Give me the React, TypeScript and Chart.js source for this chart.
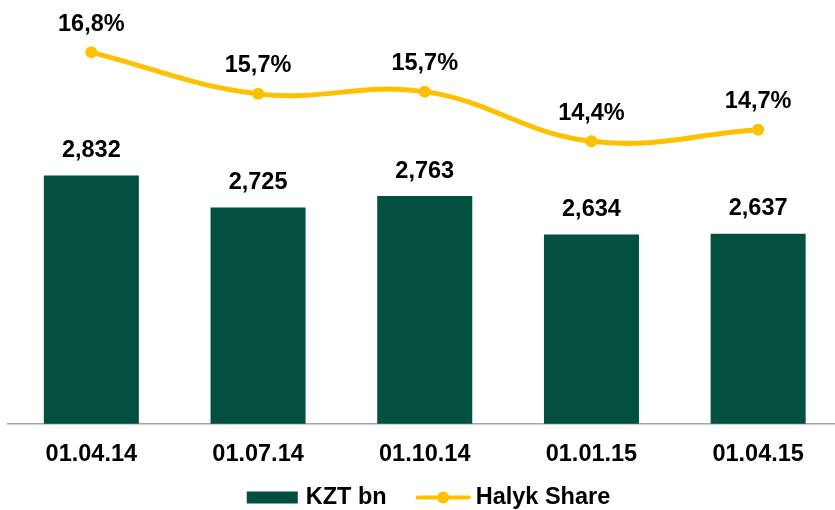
import React, { useEffect, useRef } from "react";
import { Chart, registerables } from "chart.js";

Chart.register(...registerables);

const categories = ["01.04.14", "01.07.14", "01.10.14", "01.01.15", "01.04.15"];
const kztBn = [2832, 2725, 2763, 2634, 2637];
const halykShare = [16.8, 15.68, 15.74, 14.4, 14.71];
const seriesNames = ["KZT bn", "Halyk Share"];

const BAR_COLOR = "#02503F";
const LINE_COLOR = "#FFC000";
const FONT_FAMILY = "'Liberation Sans', Arial, Helvetica, sans-serif";
const FONT_SIZE = 23.5;
const FONT = `bold ${FONT_SIZE}px ${FONT_FAMILY}`;

const fmtBar = (v: number) => v.toLocaleString("en-US");
const fmtShare = (v: number) => v.toFixed(1).replace(".", ",") + "%";

const labelsPlugin = {
  id: "valueLabels",
  afterDatasetsDraw(chart: any) {
    const ctx = chart.ctx;
    ctx.save();
    ctx.font = FONT;
    ctx.fillStyle = "#000";
    ctx.textAlign = "center";
    ctx.textBaseline = "middle";
    const barMeta = chart.getDatasetMeta(0);
    barMeta.data.forEach((el: any, i: number) => {
      ctx.fillText(fmtBar(kztBn[i]), el.x, el.y - 25);
    });
    const lineMeta = chart.getDatasetMeta(1);
    lineMeta.data.forEach((el: any, i: number) => {
      ctx.fillText(fmtShare(halykShare[i]), el.x, el.y - 28);
    });
    ctx.restore();
  },
};

const legendPlugin = {
  id: "customLegend",
  afterDraw(chart: any) {
    const ctx = chart.ctx;
    ctx.save();
    ctx.font = FONT;
    const w1 = ctx.measureText(seriesNames[0]).width;
    const w2 = ctx.measureText(seriesNames[1]).width;
    const boxW = 51, gap1 = 8, between = 29, lineW = 55, gap2 = 5;
    const total = boxW + gap1 + w1 + between + lineW + gap2 + w2;
    const center = 428.5;
    const cy = 497.5;
    let x = center - total / 2;
    ctx.fillStyle = BAR_COLOR;
    ctx.fillRect(x, cy - 6, boxW, 12);
    x += boxW + gap1;
    ctx.fillStyle = "#000";
    ctx.textAlign = "left";
    ctx.textBaseline = "middle";
    ctx.fillText(seriesNames[0], x, cy);
    x += w1 + between;
    ctx.strokeStyle = LINE_COLOR;
    ctx.lineWidth = 4;
    ctx.lineCap = "round";
    ctx.beginPath();
    ctx.moveTo(x + 2, cy);
    ctx.lineTo(x + lineW - 2, cy);
    ctx.stroke();
    ctx.fillStyle = LINE_COLOR;
    ctx.beginPath();
    ctx.arc(x + lineW / 2, cy, 6, 0, Math.PI * 2);
    ctx.fill();
    x += lineW + gap2;
    ctx.fillStyle = "#000";
    ctx.fillText(seriesNames[1], x, cy);
    ctx.restore();
  },
};

export default function App() {
  const ref = useRef<HTMLCanvasElement | null>(null);

  useEffect(() => {
    document.body.style.margin = "0";
    document.body.style.overflow = "hidden";
    const canvas = ref.current;
    if (!canvas) return;
    const chart = new Chart(canvas, {
      data: {
        labels: categories,
        datasets: [
          {
            type: "bar",
            label: seriesNames[0],
            data: kztBn,
            backgroundColor: BAR_COLOR,
            borderWidth: 0,
            barPercentage: 0.57,
            categoryPercentage: 1,
            yAxisID: "y",
            order: 2,
          },
          {
            type: "line",
            label: seriesNames[1],
            data: halykShare,
            borderColor: LINE_COLOR,
            backgroundColor: LINE_COLOR,
            borderWidth: 5,
            pointRadius: 6,
            pointBackgroundColor: LINE_COLOR,
            pointBorderWidth: 0,
            tension: 0.4,
            yAxisID: "y1",
            order: 1,
          },
        ],
      } as any,
      options: {
        responsive: false,
        animation: false,
        layout: { padding: { left: 8, right: 8.5, top: 5, bottom: 24 } },
        plugins: {
          legend: { display: false },
          tooltip: { enabled: false },
        },
        scales: {
          x: {
            grid: { display: false, drawTicks: false },
            border: { display: true, color: "#A6A6A6", width: 1.5 },
            ticks: {
              color: "#000",
              padding: 17,
              font: { family: FONT_FAMILY, size: FONT_SIZE, weight: "bold" },
            },
          },
          y: { display: false, min: 2000, max: 3400 },
          y1: { display: false, min: 6.78, max: 18.05, position: "right" },
        },
      } as any,
      plugins: [labelsPlugin, legendPlugin],
    });
    return () => chart.destroy();
  }, []);

  return (
    <div style={{ position: "fixed", left: 0, top: 0, width: 835, height: 510, overflow: "hidden", background: "#fff" }}>
      <canvas ref={ref} width={850} height={510} style={{ display: "block", width: 850, height: 510 }} />
    </div>
  );
}
